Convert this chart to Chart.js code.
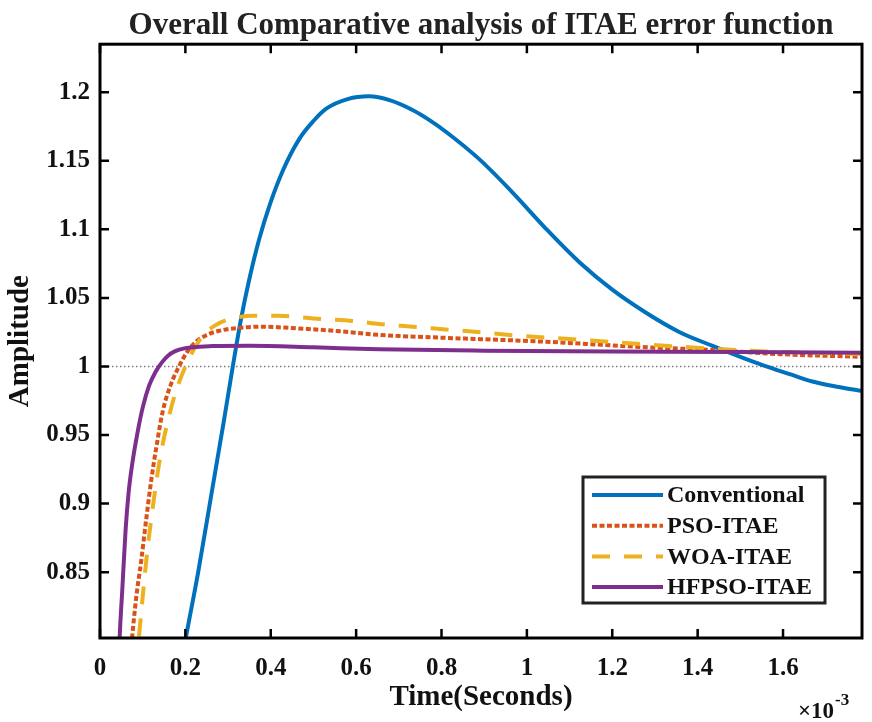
<!DOCTYPE html>
<html lang="en">
<head>
<meta charset="UTF-8">
<title>Overall Comparative analysis of ITAE error function</title>
<script src="https://cdn.jsdelivr.net/npm/chart.js"></script>
<style>
    body { margin: 0; background: #ffffff; }
    canvas { display: block; }
</style>
</head>
<body>
<canvas id="itaeChart" width="872" height="722"></canvas>
<script>
// time is in ms (axis shows x 10^-3 seconds)
const xTicks = [0, 0.2, 0.4, 0.6, 0.8, 1, 1.2, 1.4, 1.6];
const yTicks = [0.85, 0.9, 0.95, 1, 1.05, 1.1, 1.15, 1.2];
const xRange = [0, 1.785];
const yRange = [0.802, 1.235];
const refLevel = 1;

const seriesNames = ['Conventional', 'PSO-ITAE', 'WOA-ITAE', 'HFPSO-ITAE'];

const convT = [0.180, 0.201, 0.230, 0.260, 0.290, 0.310, 0.330, 0.350, 0.373, 0.400, 0.430, 0.467, 0.500, 0.530, 0.580, 0.630, 0.680, 0.732, 0.770, 0.811, 0.889, 0.966, 1.046, 1.123, 1.200, 1.280, 1.358, 1.435, 1.500, 1.552, 1.620, 1.669, 1.730, 1.787];
const convY = [0.765, 0.802, 0.850, 0.905, 0.960, 0.998, 1.034, 1.064, 1.093, 1.120, 1.144, 1.166, 1.179, 1.188, 1.195, 1.197, 1.194, 1.187, 1.180, 1.171, 1.151, 1.127, 1.100, 1.076, 1.056, 1.039, 1.025, 1.015, 1.007, 1.001, 0.994, 0.989, 0.985, 0.982];

const psoT = [0.068, 0.075, 0.085, 0.096, 0.108, 0.120, 0.133, 0.146, 0.165, 0.185, 0.205, 0.225, 0.250, 0.279, 0.320, 0.380, 0.450, 0.550, 0.654, 0.800, 1.046, 1.280, 1.435, 1.592, 1.787];
const psoY = [0.780, 0.802, 0.832, 0.857, 0.888, 0.917, 0.943, 0.966, 0.986, 1.000, 1.011, 1.018, 1.023, 1.026, 1.028, 1.029, 1.028, 1.026, 1.023, 1.021, 1.018, 1.014, 1.012, 1.009, 1.007];

const woaT = [0.084, 0.091, 0.100, 0.111, 0.127, 0.140, 0.158, 0.177, 0.209, 0.240, 0.270, 0.310, 0.360, 0.420, 0.500, 0.600, 0.654, 0.732, 0.850, 1.000, 1.150, 1.280, 1.435, 1.560, 1.787];
const woaY = [0.780, 0.802, 0.832, 0.866, 0.905, 0.932, 0.959, 0.981, 1.006, 1.022, 1.030, 1.035, 1.037, 1.037, 1.035, 1.033, 1.031, 1.029, 1.026, 1.022, 1.019, 1.016, 1.013, 1.011, 1.009];

const hfT = [0.043, 0.046, 0.052, 0.060, 0.067, 0.076, 0.088, 0.100, 0.115, 0.130, 0.145, 0.160, 0.175, 0.195, 0.220, 0.263, 0.350, 0.500, 0.654, 0.900, 1.200, 1.500, 1.787];
const hfY = [0.770, 0.802, 0.836, 0.881, 0.908, 0.930, 0.952, 0.970, 0.986, 0.996, 1.003, 1.008, 1.011, 1.013, 1.014, 1.015, 1.0152, 1.014, 1.0125, 1.0115, 1.011, 1.0105, 1.010];

const pts = (t, y) => t.map((v, i) => ({ x: v, y: y[i] }));
const fmt = v => String(Number(v.toFixed(2)));

const serif = '"Liberation Serif", "Times New Roman", serif';
const ink = '#111111';

// MATLAB style box: frame, inward ticks on all sides, boxed legend, exponent label
const matlabBox = {
    id: 'matlabBox',
    afterDraw(chart) {
        const { ctx, chartArea: a, scales: { x, y } } = chart;
        ctx.save();
        ctx.strokeStyle = '#000';
        ctx.lineWidth = 3;
        ctx.strokeRect(a.left, a.top, a.width, a.height);

        ctx.lineWidth = 2.5;
        ctx.beginPath();
        xTicks.forEach(v => {
            const px = x.getPixelForValue(v);
            ctx.moveTo(px, a.bottom); ctx.lineTo(px, a.bottom - 9);
            ctx.moveTo(px, a.top); ctx.lineTo(px, a.top + 9);
        });
        yTicks.forEach(v => {
            const py = y.getPixelForValue(v);
            ctx.moveTo(a.left, py); ctx.lineTo(a.left + 9, py);
            ctx.moveTo(a.right, py); ctx.lineTo(a.right - 9, py);
        });
        ctx.stroke();

        // legend box, bottom right inside the axes
        const bw = 242, bh = 126;
        const bx = a.right - 37 - bw, by = a.bottom - 35 - bh;
        ctx.fillStyle = '#fff';
        ctx.fillRect(bx, by, bw, bh);
        ctx.lineWidth = 3;
        ctx.strokeStyle = '#222';
        ctx.strokeRect(bx, by, bw, bh);
        ctx.font = 'bold 24px ' + serif;
        ctx.textAlign = 'left';
        ctx.textBaseline = 'middle';
        chart.data.datasets.filter(d => seriesNames.includes(d.label)).forEach((d, i) => {
            const ry = by + 18 + i * 30.7;
            ctx.save();
            ctx.strokeStyle = d.borderColor;
            ctx.lineWidth = d.borderWidth;
            ctx.setLineDash(d.borderDash || []);
            ctx.beginPath();
            ctx.moveTo(bx + 9, ry);
            ctx.lineTo(bx + 80, ry);
            ctx.stroke();
            ctx.restore();
            ctx.fillStyle = ink;
            ctx.fillText(d.label, bx + 84, ry + 1);
        });

        // x 10^-3 exponent
        ctx.fillStyle = ink;
        ctx.textBaseline = 'alphabetic';
        ctx.font = 'bold 23px ' + serif;
        const ex = a.right - 64, ey = chart.height - 4;
        ctx.fillText('\u00d710', ex, ey);
        const w = ctx.measureText('\u00d710').width;
        ctx.font = 'bold 17px ' + serif;
        ctx.fillText('-3', ex + w + 1, ey - 13);
        ctx.restore();
    }
};

const lineStyle = { pointRadius: 0, fill: false, cubicInterpolationMode: 'monotone', clip: 0 };

new Chart(document.getElementById('itaeChart'), {
    type: 'line',
    data: {
        datasets: [
            { ...lineStyle, label: seriesNames[0], data: pts(convT, convY), borderColor: '#0072BD', borderWidth: 4, order: 4 },
            { ...lineStyle, label: seriesNames[1], data: pts(psoT, psoY), borderColor: '#D95319', borderWidth: 4, borderDash: [5, 2.5], order: 3 },
            { ...lineStyle, label: seriesNames[2], data: pts(woaT, woaY), borderColor: '#EDB120', borderWidth: 4, borderDash: [18, 14], order: 2 },
            { ...lineStyle, label: seriesNames[3], data: pts(hfT, hfY), borderColor: '#7E2F8E', borderWidth: 4, order: 1 },
            { ...lineStyle, label: 'ref', data: [{ x: xRange[0], y: refLevel }, { x: xRange[1], y: refLevel }], borderColor: '#7a7a7a', borderWidth: 1.5, borderDash: [1.5, 2.5], cubicInterpolationMode: 'default', order: 5 }
        ]
    },
    options: {
        responsive: false,
        animation: false,
        devicePixelRatio: 1,
        layout: { padding: { left: 0, right: 10, top: 0, bottom: 0 } },
        plugins: {
            legend: { display: false },
            tooltip: { enabled: false },
            title: {
                display: true,
                text: 'Overall Comparative analysis of ITAE error function',
                fullSize: false,
                color: '#222',
                font: { family: serif, size: 31, weight: 'bold', lineHeight: 1.2 },
                padding: { top: 7, bottom: 0 }
            }
        },
        scales: {
            x: {
                type: 'linear',
                min: xRange[0],
                max: xRange[1],
                afterBuildTicks: s => { s.ticks = xTicks.map(v => ({ value: v })); },
                afterFit: s => { s.height = 84; },
                grid: { display: false, drawTicks: false },
                border: { display: false },
                ticks: {
                    padding: 16,
                    color: ink,
                    maxRotation: 0,
                    autoSkip: false,
                    font: { family: serif, size: 25, weight: 'bold' },
                    callback: v => fmt(v)
                },
                title: {
                    display: true,
                    text: 'Time(Seconds)',
                    color: ink,
                    font: { family: serif, size: 29, weight: 'bold', lineHeight: 1.2 },
                    padding: { top: 0, bottom: 7.5 }
                }
            },
            y: {
                type: 'linear',
                min: yRange[0],
                max: yRange[1],
                afterBuildTicks: s => { s.ticks = yTicks.map(v => ({ value: v })); },
                afterFit: s => { s.width = 100; },
                grid: { display: false, drawTicks: false },
                border: { display: false },
                ticks: {
                    padding: 10,
                    color: ink,
                    autoSkip: false,
                    font: { family: serif, size: 25, weight: 'bold' },
                    callback: v => fmt(v)
                },
                title: {
                    display: true,
                    text: 'Amplitude',
                    color: ink,
                    font: { family: serif, size: 29, weight: 'bold', lineHeight: 1.2 },
                    padding: { top: 3, bottom: 0 }
                }
            }
        }
    },
    plugins: [matlabBox]
});
</script>
</body>
</html>
